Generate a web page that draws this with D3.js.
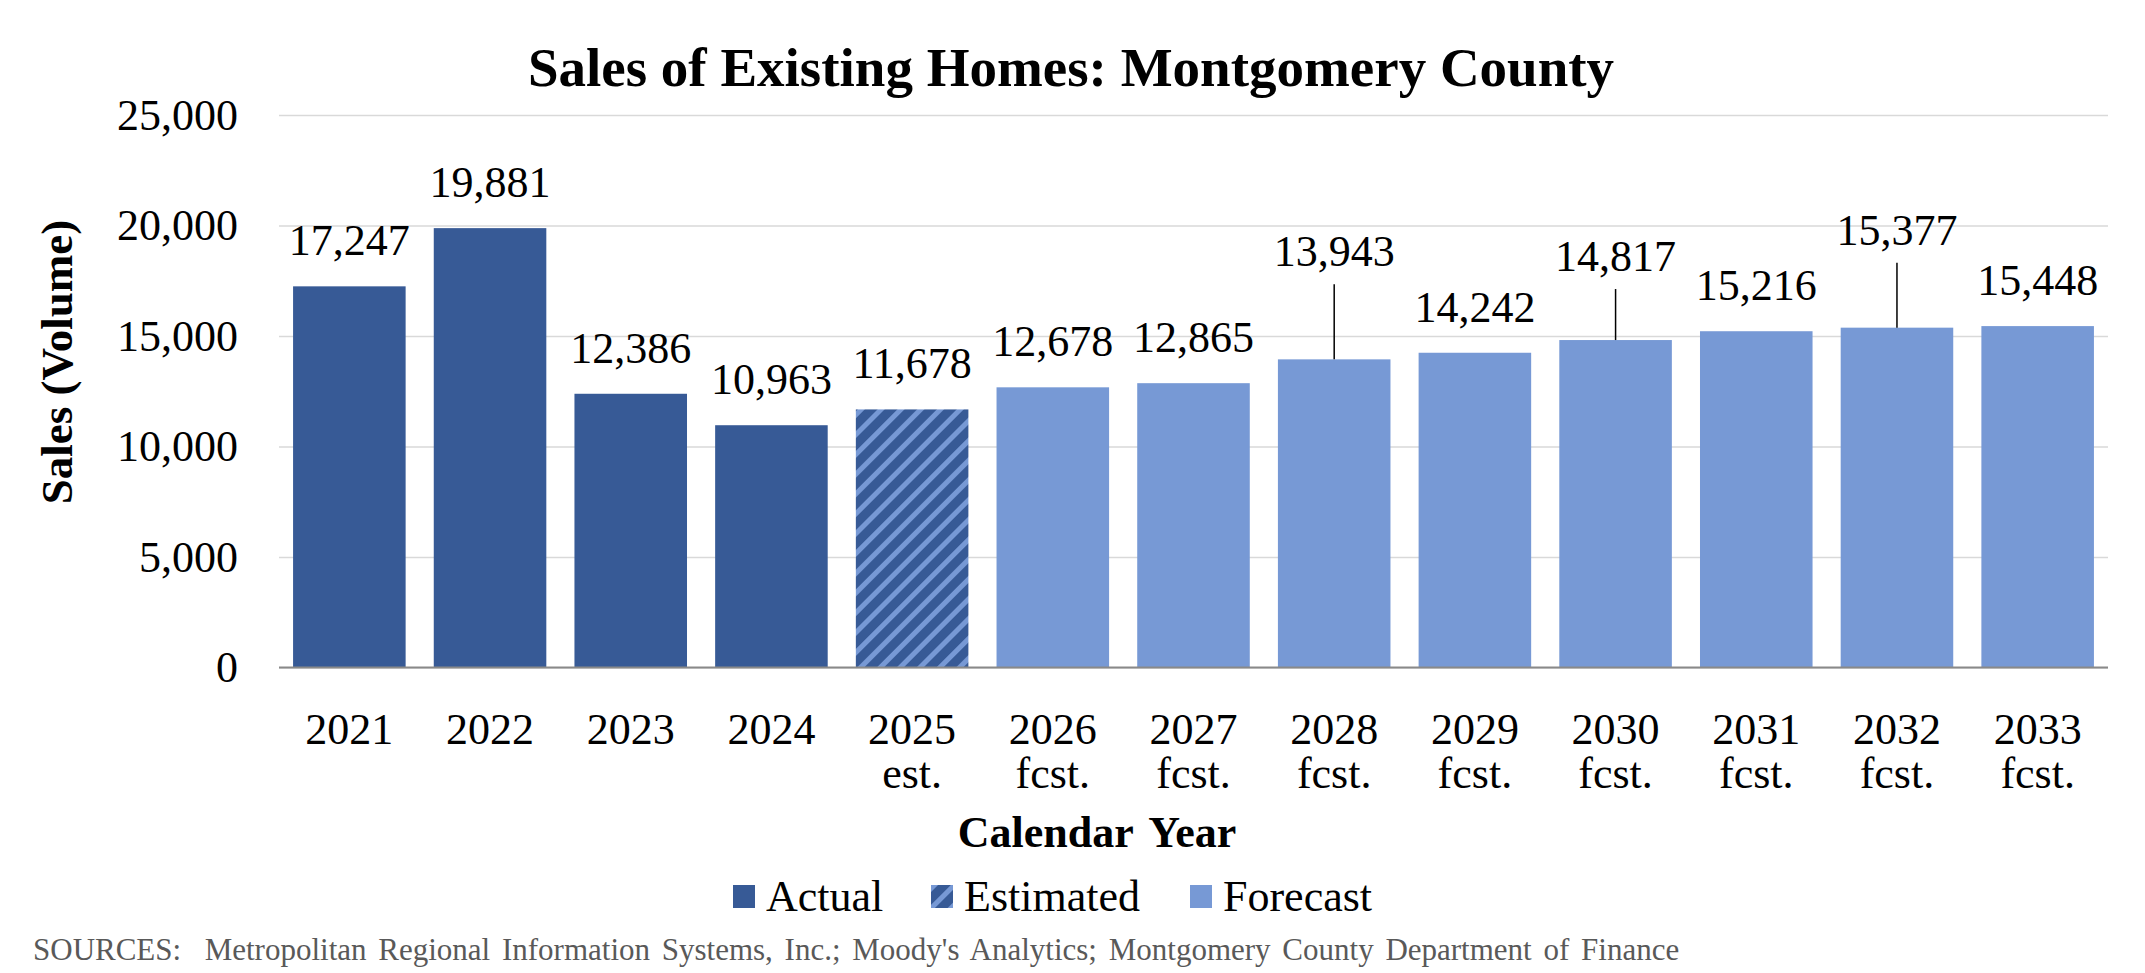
<!DOCTYPE html>
<html>
<head>
<meta charset="utf-8">
<script src="https://cdn.jsdelivr.net/npm/d3@7"></script>
<style>
  body { margin: 0; background: #fff; }
  text { font-family: "Liberation Serif", "Times New Roman", serif; }
</style>
</head>
<body>
<div class="content"></div>
<script>
var years = ["2021","2022","2023","2024","2025","2026","2027","2028","2029","2030","2031","2032","2033"];
var yearNotes = ["","","","","est.","fcst.","fcst.","fcst.","fcst.","fcst.","fcst.","fcst.","fcst."];
var sales = [17247, 19881, 12386, 10963, 11678, 12678, 12865, 13943, 14242, 14817, 15216, 15377, 15448];
var kinds = ["Actual","Actual","Actual","Actual","Estimated","Forecast","Forecast","Forecast","Forecast","Forecast","Forecast","Forecast","Forecast"];
var yTicks = [0, 5000, 10000, 15000, 20000, 25000];
var legendNames = ["Actual", "Estimated", "Forecast"];

// labels pulled up with a leader line (extra px above the usual spot)
var leaderLift = {"2028": 62, "2030": 38, "2032": 52};

var dark = "#375a96", light = "#7799d5";
var fillFor = {"Actual": dark, "Estimated": "url(#stripes)", "Forecast": light};

var W = 2145, H = 973;
var plotL = 279, plotR = 2108, plotT = 115, plotB = 667.5;

var svg = d3.select(".content")
  .append("svg")
  .attr("width", W)
  .attr("height", H)

var pat = svg.append("defs").append("pattern")
  .attr("id", "stripes")
  .attr("patternUnits", "userSpaceOnUse")
  .attr("width", 14).attr("height", 14)
  .attr("patternTransform", "rotate(45)")
pat.append("rect").attr("width", 14).attr("height", 14).attr("fill", dark)
pat.append("rect").attr("width", 5).attr("height", 14).attr("fill", light)

var x = d3.scaleBand().domain(years).range([plotL, plotR]).paddingInner(0.2).paddingOuter(0.1)
var y = d3.scaleLinear().domain([0, 25000]).range([plotB, plotT])

// gridlines + y tick labels
var yAxis = svg.append("g")
  .attr("transform", "translate(" + plotL + ",0)")
  .call(d3.axisLeft(y).tickValues(yTicks).tickFormat(d3.format(",")).tickSize(-(plotR - plotL)).tickPadding(41))
yAxis.select(".domain").remove()
yAxis.selectAll(".tick line").attr("stroke", "#d9d9d9").attr("stroke-width", 1.5)
yAxis.selectAll(".tick text")
  .style("font-size", "44px")
  .attr("fill", "#000")
  .style("font-family", "Liberation Serif")

// bars
var rows = years.map(function(d, i) { return {year: d, note: yearNotes[i], v: sales[i], kind: kinds[i]} })

svg.selectAll("rect.bar")
  .data(rows)
  .enter()
  .append("rect").attr("class", "bar")
  .attr("x", function(d) { return x(d.year) })
  .attr("y", function(d) { return y(d.v) })
  .attr("width", x.bandwidth())
  .attr("height", function(d) { return y(0) - y(d.v) })
  .attr("fill", function(d) { return fillFor[d.kind] })

// baseline
svg.append("line")
  .attr("x1", plotL).attr("x2", plotR)
  .attr("y1", y(0)).attr("y2", y(0))
  .attr("stroke", "#898989").attr("stroke-width", 2)

// leader lines
svg.selectAll("line.leader")
  .data(rows.filter(function(d) { return leaderLift[d.year] }))
  .enter()
  .append("line").attr("class", "leader")
  .attr("x1", function(d) { return x(d.year) + x.bandwidth() / 2 })
  .attr("x2", function(d) { return x(d.year) + x.bandwidth() / 2 })
  .attr("y1", function(d) { return y(d.v) - 31 - leaderLift[d.year] + 18 })
  .attr("y2", function(d) { return y(d.v) })
  .attr("stroke", "#000").attr("stroke-width", 1.5)

// value labels
svg.selectAll("text.val")
  .data(rows)
  .enter()
  .append("text").attr("class", "val")
  .text(function(d) { return d3.format(",")(d.v) })
  .attr("x", function(d) { return x(d.year) + x.bandwidth() / 2 })
  .attr("y", function(d) { return y(d.v) - 31 - (leaderLift[d.year] || 0) })
  .style("text-anchor", "middle")
  .style("font-size", "44px")

// category labels, two lines
svg.selectAll("text.cat")
  .data(rows)
  .enter()
  .append("text").attr("class", "cat")
  .text(function(d) { return d.year })
  .attr("x", function(d) { return x(d.year) + x.bandwidth() / 2 })
  .attr("y", 744)
  .style("text-anchor", "middle")
  .style("font-size", "44px")

svg.selectAll("text.note")
  .data(rows.filter(function(d) { return d.note }))
  .enter()
  .append("text").attr("class", "note")
  .text(function(d) { return d.note })
  .attr("x", function(d) { return x(d.year) + x.bandwidth() / 2 })
  .attr("y", 788)
  .style("text-anchor", "middle")
  .style("font-size", "44px")

// titles
svg.append("text")
  .text("Sales of Existing Homes: Montgomery County")
  .attr("x", 1071).attr("y", 86)
  .style("text-anchor", "middle")
  .style("font-size", "55px").style("font-weight", "bold")

svg.append("text")
  .text("Calendar Year")
  .attr("x", 1097).attr("y", 847)
  .style("text-anchor", "middle")
  .style("font-size", "44px").style("font-weight", "bold")
  .style("word-spacing", "6px")

svg.append("text")
  .text("Sales (Volume)")
  .attr("transform", "translate(72,362) rotate(-90)")
  .style("text-anchor", "middle")
  .style("font-size", "45px").style("font-weight", "bold")

// legend
var legX = [733, 931, 1190]
var leg = svg.selectAll("g.leg")
  .data(legendNames)
  .enter()
  .append("g").attr("class", "leg")
  .attr("transform", function(d, i) { return "translate(" + legX[i] + ",885)" })
leg.append("rect").attr("width", 22).attr("height", 23)
  .attr("fill", function(d) { return fillFor[d] })
leg.append("text").text(function(d) { return d })
  .attr("x", 33).attr("y", 26)
  .style("font-size", "44px")

svg.append("text")
  .text("SOURCES:  Metropolitan Regional Information Systems, Inc.; Moody's Analytics; Montgomery County Department of Finance")
  .attr("x", 33).attr("y", 960)
  .attr("fill", "#595959")
  .style("font-size", "31px")
  .style("word-spacing", "4px")
  .style("white-space", "pre")
</script>
</body>
</html>
